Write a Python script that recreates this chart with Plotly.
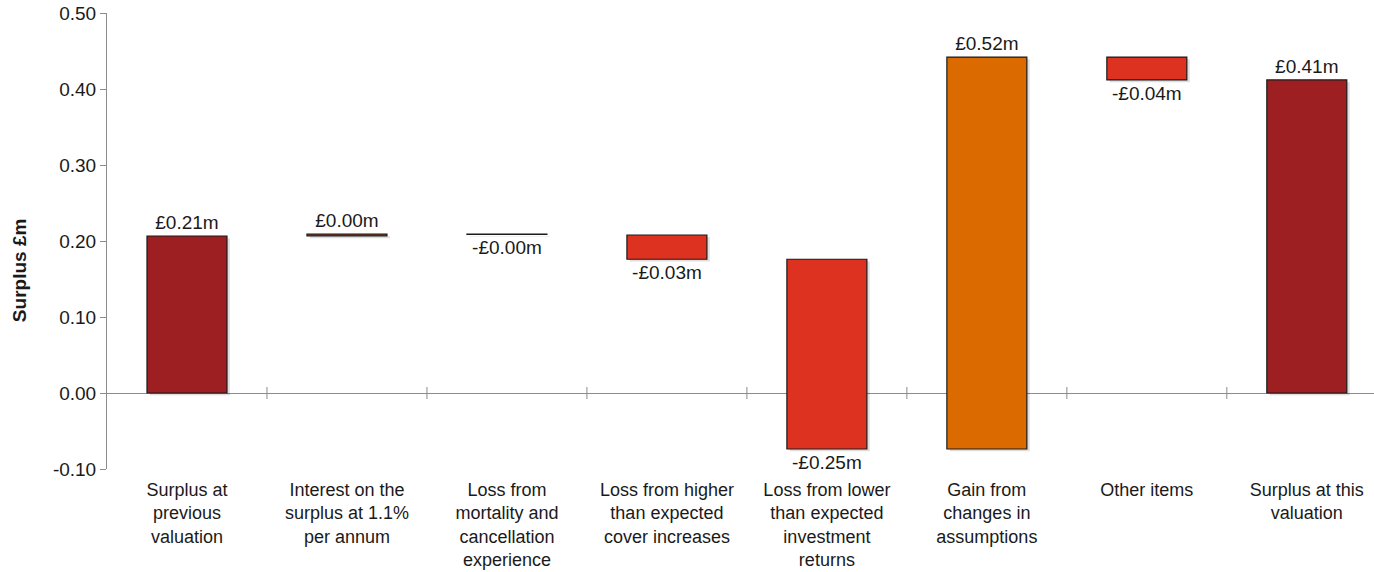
import plotly.graph_objects as go

categories = [
    "Surplus at<br>previous<br>valuation",
    "Interest on the<br>surplus at 1.1%<br>per annum",
    "Loss from<br>mortality and<br>cancellation<br>experience",
    "Loss from higher<br>than expected<br>cover increases",
    "Loss from lower<br>than expected<br>investment<br>returns",
    "Gain from<br>changes in<br>assumptions",
    "Other items",
    "Surplus at this<br>valuation",
]
# bar start level and signed change (in £m)
bar_base = [0.0, 0.2066, 0.2092, 0.2079, 0.176, -0.0737, 0.442, 0.0]
bar_delta = [0.2066, 0.0026, -0.0006, -0.0319, -0.2497, 0.5157, -0.030, 0.412]
labels = ["£0.21m", "£0.00m", "-£0.00m", "-£0.03m", "-£0.25m", "£0.52m", "-£0.04m", "£0.41m"]
bar_colors = ["#9E1F21", "#7A3A1E", "#222222", "#DE3220", "#DE3220", "#DB6A00", "#DE3220", "#9E1F21"]
y_ticks = [-0.1, 0.0, 0.1, 0.2, 0.3, 0.4, 0.5]
y_tick_text = ["-0.10", "0.00", "0.10", "0.20", "0.30", "0.40", "0.50"]

FONT = "Liberation Sans, Arial, sans-serif"
TXT = "#1a1a1a"

x = list(range(len(categories)))
fig = go.Figure()

# soft shadow
fig.add_trace(go.Bar(
    x=x, y=bar_delta, base=[b - 0.003 for b in bar_base],
    width=0.5, offset=-0.25 + 0.018,
    marker=dict(color="rgba(0,0,0,0.13)", line=dict(width=0)),
    hoverinfo="skip", showlegend=False,
))
fig.add_trace(go.Bar(
    x=x, y=bar_delta, base=bar_base,
    width=0.5,
    marker=dict(color=bar_colors, line=dict(color="#1a1a1a", width=1.2)),
    text=labels, textposition="outside", cliponaxis=False,
    textfont=dict(family=FONT, size=19, color=TXT),
    showlegend=False,
))

# category tick marks crossing the zero line
for i in range(len(categories) - 1):
    fig.add_shape(type="line", xref="x", yref="y", x0=i + 0.5, x1=i + 0.5,
                  ysizemode="pixel", yanchor=0, y0=-6, y1=6,
                  line=dict(color="#8c8c8c", width=1))

fig.add_annotation(text="<b>Surplus £m</b>", textangle=-90, xref="paper", yref="paper",
                   x=-0.0695, y=0.436, xanchor="center", yanchor="middle", showarrow=False,
                   font=dict(family=FONT, size=19, color=TXT))

fig.update_layout(
    width=1374, height=572,
    margin=dict(l=107, r=0, t=13, b=103, autoexpand=False),
    paper_bgcolor="white", plot_bgcolor="white",
    barmode="overlay",
    font=dict(family=FONT, size=19, color=TXT),
    xaxis=dict(
        tickmode="array", tickvals=x, ticktext=categories, automargin=False,
        range=[-0.5, 7.42], showgrid=False, showline=False, zeroline=False,
        ticks="", tickfont=dict(family=FONT, size=18, color=TXT),
        ticklabelstandoff=8,
    ),
    yaxis=dict(
        range=[-0.1, 0.5], tickmode="array", tickvals=y_ticks, ticktext=y_tick_text,
        automargin=False,
        showgrid=False, zeroline=True, zerolinecolor="#8c8c8c", zerolinewidth=1,
        showline=True, linecolor="#8c8c8c", linewidth=1,
        ticks="outside", ticklen=6, tickcolor="#8c8c8c",
        tickfont=dict(family=FONT, size=19, color=TXT),
    ),
)

fig.write_html("out.html")
